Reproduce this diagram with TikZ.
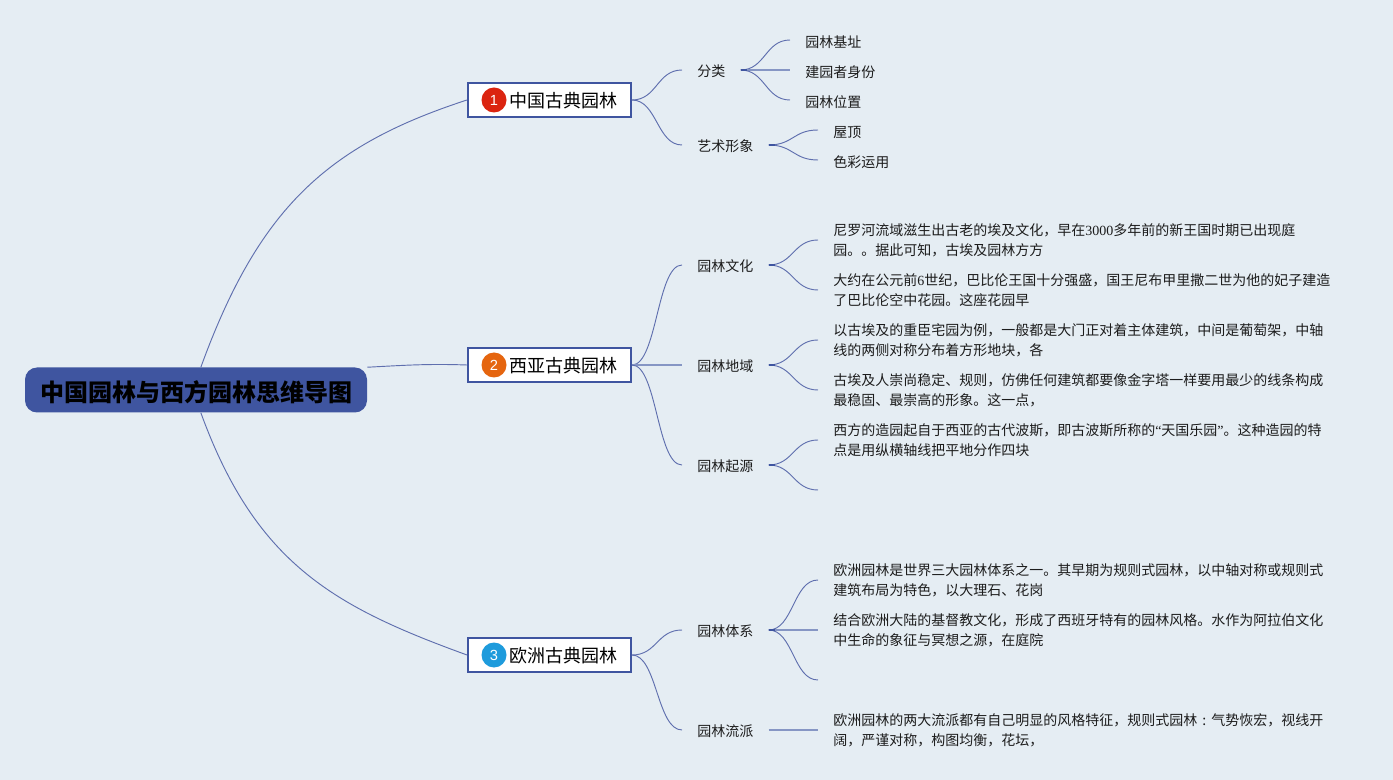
\documentclass[tikz,border=0pt]{standalone}
\usepackage{fontspec}
\setmainfont{Noto Sans CJK SC}
\newfontfamily\numfont{Liberation Serif}
\newfontfamily\badgefont{Liberation Sans}
\usepackage{xcolor}
\usetikzlibrary{calc}
\definecolor{bgpage}{HTML}{E5EDF3}
\definecolor{rootblue}{HTML}{3F55A0}
\definecolor{linkblue}{HTML}{5F6FAE}
\definecolor{linklight}{HTML}{8696C4}
\definecolor{inktext}{HTML}{1C1C1C}
\definecolor{badgered}{HTML}{DB2410}
\definecolor{badgeorange}{HTML}{E5650F}
\definecolor{badgeblue}{HTML}{1E9BDC}
\tikzset{
	rootnode/.style={fill=rootblue, rounded corners=9pt, minimum width=256.5pt, minimum height=33.75pt, inner sep=0pt, text height=16.6pt, text depth=0pt, font=\fontsize{18}{20}\selectfont\bfseries, text=black},
	topic/.style={draw=rootblue, line width=1.5pt, fill=white, anchor=west, inner xsep=10.5pt, minimum height=26pt, inner ysep=0pt, text height=11.5pt, text depth=0pt, font=\fontsize{13.5}{15}\selectfont, text=black},
	badge/.style={circle, minimum size=18.75pt, inner sep=0pt, text=white, font=\badgefont\fontsize{11}{12}\selectfont},
	subtopic/.style={anchor=west, inner xsep=11.25pt, inner ysep=0pt, text height=9.5pt, text depth=0pt, font=\fontsize{10.5}{15}\selectfont, text=inktext},
	leaf/.style={anchor=west, inner xsep=11.25pt, inner ysep=0pt, text depth=0pt, align=left, execute at begin node={\rule{0pt}{10.7pt}}, font=\fontsize{10.5}{15}\selectfont, text=inktext},
	rootlink/.style={draw=linkblue, line width=0.7pt},
	branch/.style={draw=linkblue, line width=0.7pt, to path={let \p1=(\tikztostart), \p2=(\tikztotarget) in .. controls (\x1/2+\x2/2,\y1) and (\x1/2+\x2/2,\y2) .. (\tikztotarget)}},
	flatbranch/.style={draw=linklight, line width=1.4pt},
	stub/.style={draw=rootblue, line width=1.4pt}
}
\begin{document}
\begin{tikzpicture}[x=0.75pt, y=-0.75pt]
	\path[fill=bgpage, use as bounding box] (0,0) rectangle (1393,780);

	\node[rootnode] (root) at (196,390) {\hspace*{1.5pt}中国园林与西方园林思维导图};

	\node[topic] (t1) at (467,100) {\hspace*{20.25pt}中国古典园林};
	\node[topic] (t2) at (467,365) {\hspace*{20.25pt}西亚古典园林};
	\node[topic] (t3) at (467,655) {\hspace*{20.25pt}欧洲古典园林};
	\node[badge, fill=badgered] (b1) at (494,100) {1};
	\node[badge, fill=badgeorange] (b2) at (494,365) {2};
	\node[badge, fill=badgeblue] (b3) at (494,655) {3};

	\node[subtopic] (fl) at (682,70) {分类};
	\node[subtopic] (ys) at (682,145) {艺术形象};
	\node[subtopic] (wh) at (682,265) {园林文化};
	\node[subtopic] (dy) at (682,365) {园林地域};
	\node[subtopic] (qy) at (682,465) {园林起源};
	\node[subtopic] (tx) at (682,630) {园林体系};
	\node[subtopic] (lp) at (682,730) {园林流派};

	\node[leaf] (jz) at (790,40) {园林基址};
	\node[leaf] (sf) at (790,70) {建园者身份};
	\node[leaf] (wz) at (790,100) {园林位置};
	\node[leaf] (wd) at (818,130) {屋顶};
	\node[leaf] (sc) at (818,160) {色彩运用};
	\node[leaf] (ai) at (818,240) {尼罗河流域滋生出古老的埃及文化，早在{\numfont 3000}多年前的新王国时期已出现庭\\园。。据此可知，古埃及园林方方};
	\node[leaf] (bb) at (818,290) {大约在公元前{\numfont 6}世纪，巴比伦王国十分强盛，国王尼布甲里撒二世为他的妃子建造\\了巴比伦空中花园。这座花园早};
	\node[leaf] (zc) at (818,340) {以古埃及的重臣宅园为例，一般都是大门正对着主体建筑，中间是葡萄架，中轴\\线的两侧对称分布着方形地块，各};
	\node[leaf] (cs) at (818,390) {古埃及人崇尚稳定、规则，仿佛任何建筑都要像金字塔一样要用最少的线条构成\\最稳固、最崇高的形象。这一点，};
	\node[leaf] (bs) at (818,440) {西方的造园起自于西亚的古代波斯，即古波斯所称的{\numfont “}天国乐园{\numfont ”}。这种造园的特\\点是用纵横轴线把平地分作四块};
	\coordinate (qyend) at (818,490);
	\node[leaf] (oz) at (818,580) {欧洲园林是世界三大园林体系之一。其早期为规则式园林，以中轴对称或规则式\\建筑布局为特色，以大理石、花岗};
	\node[leaf] (xb) at (818,630) {结合欧洲大陆的基督教文化，形成了西班牙特有的园林风格。水作为阿拉伯文化\\中生命的象征与冥想之源，在庭院};
	\coordinate (txend) at (818,680);
	\node[leaf] (lg) at (818,730) {欧洲园林的两大流派都有自己明显的风格特征，规则式园林\makebox[1em][c]{:}气势恢宏，视线开\\阔，严谨对称，构图均衡，花坛，};

	\draw[rootlink] (root.78) to [out=70, in=198, out looseness=1.15, in looseness=1] (t1.west);
	\draw[rootlink] (root.north east) to [out=3, in=178] (t2.west);
	\draw[rootlink] (root.-78) to [out=-70, in=160, out looseness=1.15, in looseness=1] (t3.west);

	\draw[branch] (t1.east) to (fl.west);
	\draw[branch] (t1.east) to (ys.west);
	\draw[branch] (t2.east) to (wh.west);
	\draw[flatbranch] (t2.east) to (dy.west);
	\draw[branch] (t2.east) to (qy.west);
	\draw[branch] (t3.east) to (tx.west);
	\draw[branch] (t3.east) to (lp.west);

	\draw[branch] (fl.east) to (jz.west);
	\draw[flatbranch] (fl.east) to (sf.west);
	\draw[branch] (fl.east) to (wz.west);
	\draw[branch] (ys.east) to (wd.west);
	\draw[branch] (ys.east) to (sc.west);
	\draw[branch] (wh.east) to (ai.west);
	\draw[branch] (wh.east) to (bb.west);
	\draw[branch] (dy.east) to (zc.west);
	\draw[branch] (dy.east) to (cs.west);
	\draw[branch] (qy.east) to (bs.west);
	\draw[branch] (qy.east) to (qyend);
	\draw[branch] (tx.east) to (oz.west);
	\draw[flatbranch] (tx.east) to (xb.west);
	\draw[branch] (tx.east) to (txend);
	\draw[flatbranch] (lp.east) to (lg.west);

	\draw[stub] (fl.east) to +(6,0);
	\draw[stub] (ys.east) to +(6,0);
	\draw[stub] (wh.east) to +(6,0);
	\draw[stub] (dy.east) to +(6,0);
	\draw[stub] (qy.east) to +(6,0);
	\draw[stub] (tx.east) to +(6,0);
\end{tikzpicture}
\end{document}
